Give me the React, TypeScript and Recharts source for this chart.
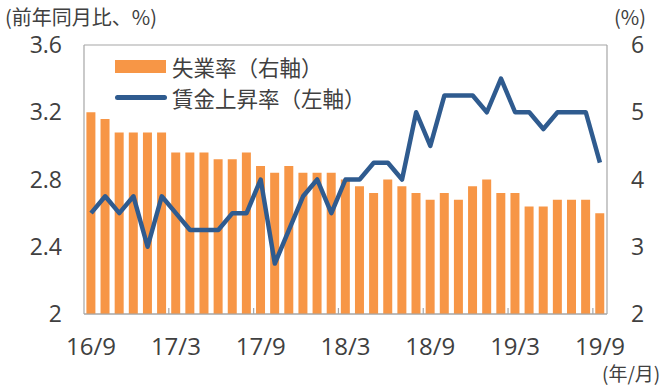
import { ComposedChart, Bar, Line, XAxis, YAxis, CartesianGrid, Legend } from 'recharts';

// 16/9 .. 19/9, monthly
const months = [
  '16/9', '16/10', '16/11', '16/12', '17/1', '17/2', '17/3', '17/4', '17/5', '17/6',
  '17/7', '17/8', '17/9', '17/10', '17/11', '17/12', '18/1', '18/2', '18/3', '18/4',
  '18/5', '18/6', '18/7', '18/8', '18/9', '18/10', '18/11', '18/12', '19/1', '19/2',
  '19/3', '19/4', '19/5', '19/6', '19/7', '19/8', '19/9',
];

// 失業率 (right axis, %)
const unemployment = [
  5.0, 4.9, 4.7, 4.7, 4.7, 4.7, 4.4, 4.4, 4.4, 4.3,
  4.3, 4.4, 4.2, 4.1, 4.2, 4.1, 4.1, 4.1, 4.0, 3.9,
  3.8, 4.0, 3.9, 3.8, 3.7, 3.8, 3.7, 3.9, 4.0, 3.8,
  3.8, 3.6, 3.6, 3.7, 3.7, 3.7, 3.5,
];

// 賃金上昇率 (left axis, % yoy)
const wageGrowth = [
  2.6, 2.7, 2.6, 2.7, 2.4, 2.7, 2.6, 2.5, 2.5, 2.5,
  2.6, 2.6, 2.8, 2.3, 2.5, 2.7, 2.8, 2.6, 2.8, 2.8,
  2.9, 2.9, 2.8, 3.2, 3.0, 3.3, 3.3, 3.3, 3.2, 3.4,
  3.2, 3.2, 3.1, 3.2, 3.2, 3.2, 2.9,
];

const leftTicks = [2, 2.4, 2.8, 3.2, 3.6];
const rightTicks = [2, 3, 4, 5, 6];

const data = months.map((m, i) => ({
  month: m,
  unemployment: unemployment[i],
  wage: wageGrowth[i],
}));

const ORANGE = '#f79646';
const BLUE = '#2f5b8f';
const TEXT = '#404040';
const GRID = '#a6a6a6';
const NUM_FONT = '"Open Sans", "Noto Sans CJK JP", sans-serif';
const CJK_FONT = '"Noto Sans CJK JP", sans-serif';

const PLOT_LEFT = 84;
const PLOT_RIGHT = 607;
const X_TICK_GAP = 24;

function MonthTick(props: any) {
  const { x, y, payload, index } = props;
  const step = (PLOT_RIGHT - PLOT_LEFT) / months.length;
  const axisY = y - X_TICK_GAP;
  return (
    <g>
      {index > 0 && (
        <line x1={x - step / 2} x2={x - step / 2} y1={axisY} y2={axisY - 6} stroke={GRID} strokeWidth={1.2} />
      )}
      <text x={x} y={y} dy="0.71em" textAnchor="middle" fill={TEXT} fontSize={24} fontFamily={NUM_FONT}>
        {payload.value}
      </text>
    </g>
  );
}

function LegendBox() {
  const row = { display: 'flex', alignItems: 'center', height: 31, fontFamily: CJK_FONT, fontSize: 21.5, color: TEXT };
  return (
    <div>
      <div style={row}>
        <span style={{ width: 51, height: 13, background: ORANGE, marginRight: 6 }} />
        失業率（右軸）
      </div>
      <div style={row}>
        <span style={{ width: 52, height: 5, borderRadius: 3, background: BLUE, marginRight: 5 }} />
        賃金上昇率（左軸）
      </div>
    </div>
  );
}

export default function App() {
  const note = { position: 'absolute' as const, fontFamily: CJK_FONT, color: TEXT, lineHeight: '20px' };
  return (
    <div style={{ position: 'absolute', left: 0, top: 0, width: 672, height: 388, background: '#fff' }}>
      <div style={{ ...note, left: 5, top: 7, fontSize: 20 }}>(前年同月比、%)</div>
      <div style={{ ...note, left: 614, top: 7, fontSize: 20 }}>(%)</div>
      <div style={{ ...note, left: 602, top: 363, fontSize: 19 }}>(年/月)</div>
      <ComposedChart
        width={672}
        height={388}
        data={data}
        margin={{ top: 45, right: 0, bottom: 24, left: 0 }}
        barCategoryGap="17%"
      >
        <CartesianGrid vertical={false} stroke={GRID} strokeWidth={1.2} />
        <XAxis
          dataKey="month"
          interval={5}
          height={50}
          tickSize={0}
          tickMargin={X_TICK_GAP}
          tick={<MonthTick />}
          axisLine={{ stroke: GRID, strokeWidth: 1.2 }}
        />
        <YAxis
          yAxisId="left"
          orientation="left"
          width={84}
          domain={[2, 3.6]}
          ticks={leftTicks}
          tickSize={0}
          tickMargin={22}
          axisLine={{ stroke: GRID, strokeWidth: 1.2 }}
          tick={{ fill: TEXT, fontSize: 23, fontFamily: NUM_FONT }}
        />
        <YAxis
          yAxisId="right"
          orientation="right"
          width={65}
          domain={[2, 6]}
          ticks={rightTicks}
          tickSize={0}
          tickMargin={24}
          axisLine={{ stroke: GRID, strokeWidth: 1.2 }}
          tick={{ fill: TEXT, fontSize: 23, fontFamily: NUM_FONT }}
        />
        <Legend
          layout="horizontal"
          verticalAlign="middle"
          align="center"
          content={<LegendBox />}
          wrapperStyle={{ position: 'absolute', left: 115, top: 51, width: 'auto' }}
        />
        <Bar yAxisId="right" dataKey="unemployment" fill={ORANGE} isAnimationActive={false} />
        <Line
          yAxisId="left"
          type="linear"
          dataKey="wage"
          stroke={BLUE}
          strokeWidth={4.5}
          strokeLinejoin="round"
          dot={false}
          activeDot={false}
          isAnimationActive={false}
        />
      </ComposedChart>
    </div>
  );
}
